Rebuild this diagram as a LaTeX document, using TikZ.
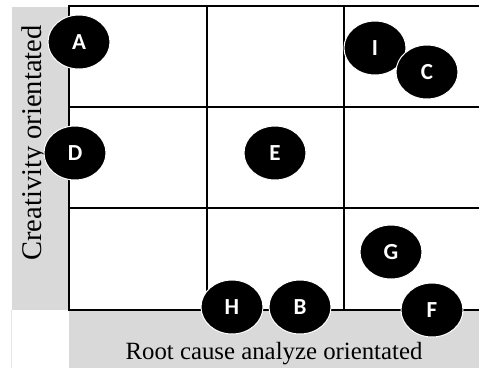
\documentclass[tikz,border=0pt]{standalone}
\usepackage{fontspec}
\setmainfont{Liberation Serif}
\newfontfamily\dotfont{Carlito}[UprightFont=* Bold]
\usetikzlibrary{shapes.geometric}
\definecolor{bandgray}{HTML}{D9D9D9}
\definecolor{edgegray}{HTML}{E4E4E4}
\tikzset{
  band/.style={fill=bandgray, draw=none},
  gridline/.style={line width=2pt, black},
  dot/.style={ellipse, fill=black, draw=white, line width=1pt,
    minimum width=62pt, minimum height=54pt, inner sep=0pt,
    text=white, font=\dotfont\fontsize{23}{23}\selectfont},
  axislabel/.style={inner sep=0pt}
}
\begin{document}
\begin{tikzpicture}[x=1pt, y=-1pt]
  \useasboundingbox (0,0) rectangle (479,368);
  % shaded axis bands
  \fill[band] (12,7) rectangle (69,310);
  \fill[band] (69,310) rectangle (479,368);
  \draw[edgegray, line width=1pt] (11.5,310) -- (11.5,368);
  % 3x3 grid
  \draw[gridline] (69,6) -- (479,6);
  \draw[gridline] (69,107) -- (479,107);
  \draw[gridline] (69,208) -- (479,208);
  \draw[gridline] (69,310) -- (479,310);
  \draw[gridline] (69,5) -- (69,311);
  \draw[gridline] (207,5) -- (207,311);
  \draw[gridline] (344,5) -- (344,311);
  % axis titles
  \node[axislabel, rotate=90, font=\fontsize{28.5}{29}\selectfont] (ylab) at (35,143) {Creativity orientated};
  \node[axislabel, font=\fontsize{24.8}{25}\selectfont] (xlab) at (274,354) {Root cause analyze orientated};
  % positioned items
  \node[dot] (A) at (79,42) {A};
  \node[dot] (D) at (75,153) {D};
  \node[dot] (E) at (275,153) {E};
  \node[dot] (I) at (375,48) {I};
  \node[dot] (C) at (427,72) {C};
  \node[dot] (G) at (391,252) {G};
  \node[dot] (H) at (232,307) {H};
  \node[dot] (B) at (300,307) {B};
  \node[dot] (F) at (432,310) {F};
\end{tikzpicture}
\end{document}
